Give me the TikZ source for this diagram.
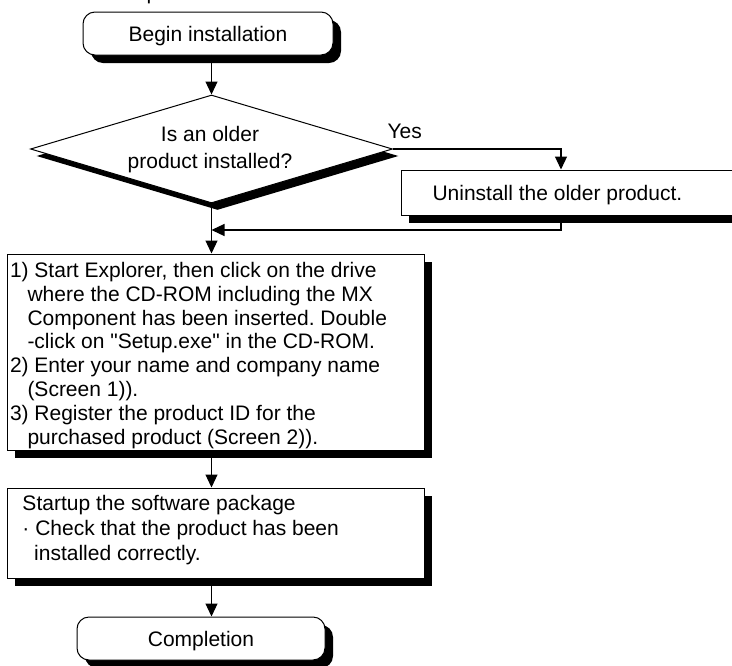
\documentclass[tikz,border=0pt]{standalone}
\usepackage{fontspec}
\setmainfont{Liberation Sans}
\usetikzlibrary{arrows.meta,shapes.geometric,shadows}
\frenchspacing
% plain font instance without the tex-text mapping, for straight quotes
\font\qfont="Liberation Sans" at 21pt
\newcommand{\sq}{{\qfont"}}
\begin{document}
\begin{tikzpicture}[x=1pt,y=-1pt,line width=1pt,
  shad/.style={drop shadow={shadow xshift=8pt,shadow yshift=-8pt,fill=black,opacity=1}},
  term/.style={draw,fill=white,rounded corners=12pt,inner sep=0pt,minimum width=#1,minimum height=43pt,text height=15pt,text depth=0pt,font=\fontsize{21}{25}\selectfont,shad},
  boxx/.style={draw,fill=white,inner sep=0pt,shad},
  txt/.style={inner sep=0pt,align=left,anchor=north west},
  lbl/.style={inner sep=0pt,anchor=base west,font=\fontsize{21}{25}\selectfont},
  arr/.style={line width=1.2pt,-{Triangle[width=12pt,length=13pt]}}
]
\useasboundingbox (0,0) rectangle (732,665);
% partially visible heading (cut off at the top edge, as in the reference)
\node[lbl] (title) at (40,-0.5) {Installation procedure};
% nodes
\node[term=250pt] (begin) at (208,33.5) {Begin installation};
\node[diamond,draw,fill=white,inner sep=0pt,minimum width=362pt,minimum height=108pt,
      drop shadow={shadow xshift=6pt,shadow yshift=-7pt,fill=black,opacity=1}] (dec) at (211.5,149) {};
\node[inner sep=0pt,anchor=north,align=center,font=\fontsize{21}{27}\selectfont] (dectxt) at (210,121.6) {\strut Is an older\\product installed?};
\node[lbl] (yes) at (387,138) {Yes};
\node[boxx,minimum width=359pt,minimum height=45pt] (uninst) at (580.5,192.5) {};
\node[lbl] (uninsttxt) at (432,200) {Uninstall the older product.};
\node[boxx,minimum width=417pt,minimum height=196pt] (step1) at (215.5,352) {};
\node[txt,font=\fontsize{21}{23.8}\selectfont] (step1txt) at (9.5,260.3) {\strut 1) Start Explorer, then click on the drive\\\hspace*{17.5pt}where the CD-ROM including the MX\\\hspace*{17.5pt}Component has been inserted. Double\\\hspace*{17.5pt}-click on \sq Setup.exe\sq{} in the CD-ROM.\\2) Enter your name and company name\\\hspace*{17.5pt}(Screen 1)).\\3) Register the product ID for the\\\hspace*{17.5pt}purchased product (Screen 2)).};
\node[boxx,minimum width=417pt,minimum height=90pt] (step2) at (215.5,533) {};
\node[txt,font=\fontsize{21}{25}\selectfont] (step2txt) at (22,492.5) {\strut Startup the software package\\· Check that the product has been\\\hspace*{11.7pt}installed correctly.};
\node[term=248pt] (done) at (201,638.5) {Completion};
% connectors
\coordinate (ux) at (561,148);
\coordinate (join) at (211.5,230);
\draw[arr] (begin.south -| dec.north) -- (dec.north);
\draw[arr] (dec.east) -| (uninst.north -| ux);
\draw[arr] (uninst.south -| ux) |- (join);
\draw[arr] (dec.south) -- (dec.south |- step1.north);
\draw[arr] (step1.south -| dec.south) -- (dec.south |- step2.north);
\draw[arr] (step2.south -| dec.south) -- (dec.south |- done.north);
\end{tikzpicture}
\end{document}
